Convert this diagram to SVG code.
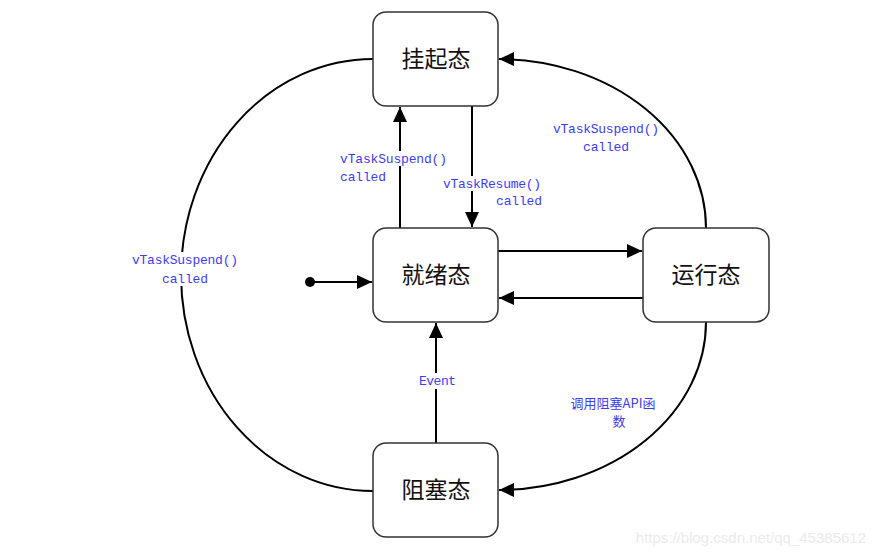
<svg xmlns="http://www.w3.org/2000/svg" width="875" height="556" viewBox="0 0 875 556">
<style>
.box{fill:#fff;stroke:#333;stroke-width:1.5}
.nt{font-family:"Noto Sans CJK SC","Liberation Serif",serif;font-size:23px;fill:#111;text-anchor:middle}
.ln{fill:none;stroke:#000;stroke-width:2}
.lb{font-family:"Liberation Mono","Noto Sans CJK SC",monospace;font-size:13px;fill:#3c3cf5}
.lbc{font-family:"Noto Sans CJK SC",sans-serif;font-size:13px;fill:#3c3cf5}
.bg{fill:#fff}
</style>
<defs>
<marker id="ah" markerUnits="userSpaceOnUse" markerWidth="16" markerHeight="14" refX="15" refY="7" orient="auto">
<path d="M0,0 L15,7 L0,14 z" fill="#000"/>
</marker>
</defs>
<rect width="875" height="556" fill="#fff"/>
<g id="connectors">
<path class="ln" d="M373,59 A192,216 0 0 0 373,491"/>
<path class="ln" d="M706,228 A208,169 0 0 0 499,59" marker-end="url(#ah)"/>
<path class="ln" d="M706,322 A208,168 0 0 1 499,490" marker-end="url(#ah)"/>
<path class="ln" d="M400,228 L400,107" marker-end="url(#ah)"/>
<path class="ln" d="M472,106 L472,227" marker-end="url(#ah)"/>
<path class="ln" d="M498,251 L642,251" marker-end="url(#ah)"/>
<path class="ln" d="M643,298 L499,298" marker-end="url(#ah)"/>
<path class="ln" d="M436,443 L436,323" marker-end="url(#ah)"/>
<circle cx="310" cy="282" r="5" fill="#000"/>
<path class="ln" d="M310,282 L372,282" marker-end="url(#ah)"/>
</g>
<g id="labels">
<rect class="bg" x="339" y="151" width="109" height="15"/>
<text class="lb" x="340" y="163" textLength="107">vTaskSuspend()</text>
<text class="lb" x="340" y="181" textLength="46">called</text>
<rect class="bg" x="442" y="176" width="101" height="15"/>
<text class="lb" x="443" y="188" textLength="98">vTaskResume()</text>
<text class="lb" x="496" y="205" textLength="46">called</text>
<text class="lb" x="553" y="133" textLength="106">vTaskSuspend()</text>
<text class="lb" x="583" y="151" textLength="46">called</text>
<rect class="bg" x="131" y="252" width="108" height="34"/>
<text class="lb" x="132" y="264" textLength="106">vTaskSuspend()</text>
<text class="lb" x="162" y="283" textLength="46">called</text>
<rect class="bg" x="417" y="373" width="40" height="16"/>
<text class="lb" x="419" y="385" textLength="37">Event</text>
<text class="lbc" x="613" y="408" text-anchor="middle">调用阻塞API函</text>
<text class="lbc" x="619" y="426" text-anchor="middle">数</text>
</g>
<g id="node-suspended">
<rect class="box" x="373" y="12" width="125" height="94" rx="13"/>
<text class="nt" x="436" y="67">挂起态</text>
</g>
<g id="node-ready">
<rect class="box" x="373" y="228" width="125" height="94" rx="13"/>
<text class="nt" x="436" y="283">就绪态</text>
</g>
<g id="node-running">
<rect class="box" x="643" y="228" width="126" height="94" rx="13"/>
<text class="nt" x="706" y="283">运行态</text>
</g>
<g id="node-blocked">
<rect class="box" x="373" y="443" width="125" height="94" rx="13"/>
<text class="nt" x="436" y="498">阻塞态</text>
</g>
<text x="866" y="543" text-anchor="end" font-family="Liberation Sans, sans-serif" font-size="15" fill="#ebebeb">https://blog.csdn.net/qq_45385612</text>
</svg>
